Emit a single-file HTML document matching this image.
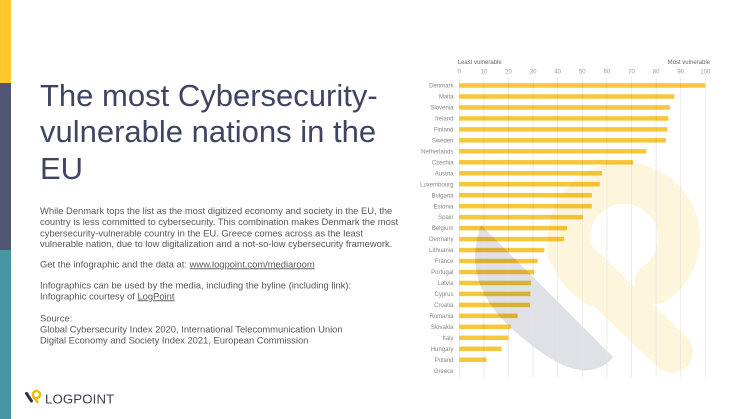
<!DOCTYPE html>
<html><head><meta charset="utf-8">
<style>
html,body{margin:0;padding:0;background:#fff;}
svg{display:block;font-family:"Liberation Sans",sans-serif;}
</style></head>
<body>
<svg width="746" height="419" viewBox="0 0 746 419" xmlns="http://www.w3.org/2000/svg">
<rect width="746" height="419" fill="#fff"/>
<rect x="0" y="0" width="11" height="83" fill="#FFC92E"/>
<rect x="0" y="83" width="11" height="167" fill="#4F5573"/>
<rect x="0" y="250" width="11" height="169" fill="#4895A3"/>

<!-- title -->
<g fill="#3f4463" font-size="31">
<text x="40" y="106">The most Cybersecurity-</text>
<text x="40" y="142">vulnerable nations in the</text>
<text x="40" y="179">EU</text>
</g>

<!-- body -->
<g fill="#55565f" font-size="9.4">
<text x="40" y="214">While Denmark tops the list as the most digitized economy and society in the EU, the</text>
<text x="40" y="225">country is less committed to cybersecurity. This combination makes Denmark the most</text>
<text x="40" y="236.3">cybersecurity-vulnerable country in the EU. Greece comes across as the least</text>
<text x="40" y="247">vulnerable nation, due to low digitalization and a not-so-low cybersecurity framework.</text>
<text x="40" y="267.3">Get the infographic and the data at: <tspan text-decoration="underline">www.logpoint.com/mediaroom</tspan></text>
<text x="40" y="288.3">Infographics can be used by the media, including the byline (including link):</text>
<text x="40" y="299.3">Infographic courtesy of <tspan text-decoration="underline">LogPoint</tspan></text>
<text x="40" y="321.6">Source:</text>
<text x="40" y="332.6">Global Cybersecurity Index 2020, International Telecommunication Union</text>
<text x="40" y="343.6">Digital Economy and Society Index 2021, European Commission</text>
</g>

<!-- logo -->
<line x1="26.5" y1="393.5" x2="31.5" y2="401" stroke="#2f3247" stroke-width="3" stroke-linecap="round"/>
<circle cx="36.5" cy="394.5" r="3.6" fill="none" stroke="#F5B800" stroke-width="2.4"/>
<line x1="33.5" y1="397" x2="37.5" y2="402" stroke="#F5B800" stroke-width="2.4" stroke-linecap="round"/>
<text x="45" y="403.5" font-size="13.2" fill="#3b3f55" letter-spacing="0.15">LOGPOINT</text>

<!-- watermark -->
<g>
<circle cx="624" cy="238" r="55" fill="none" stroke="#FDF6DC" stroke-width="42" stroke-dasharray="288 57.6" stroke-dashoffset="-110.4"/>
<circle cx="655.5" cy="283" r="21" fill="#FDF6DC"/>
<line x1="568" y1="252" x2="672" y2="352" stroke="#FDF6DC" stroke-width="42" stroke-linecap="round"/>
<path d="M481 225 C468 262 474 300 525 340 C552 362 572 372 590 370 Q605 368 613 357 Z" fill="#E0E1E7"/>
</g>

<!-- grid -->
<g stroke="#e4e4e4" stroke-width="0.7">
<line x1="459.3" y1="77" x2="459.3" y2="377"/>
<line x1="483.9" y1="77" x2="483.9" y2="377"/>
<line x1="508.5" y1="77" x2="508.5" y2="377"/>
<line x1="533.1" y1="77" x2="533.1" y2="377"/>
<line x1="557.7" y1="77" x2="557.7" y2="377"/>
<line x1="582.3" y1="77" x2="582.3" y2="377"/>
<line x1="606.9" y1="77" x2="606.9" y2="377"/>
<line x1="631.5" y1="77" x2="631.5" y2="377"/>
<line x1="656.1" y1="77" x2="656.1" y2="377"/>
<line x1="680.7" y1="77" x2="680.7" y2="377"/>
<line x1="705.3" y1="77" x2="705.3" y2="377"/>
</g>

<!-- axis labels -->
<g font-size="6" fill="#999" text-anchor="middle">
<text x="459.3" y="73.7">0</text>
<text x="483.9" y="73.7">10</text>
<text x="508.5" y="73.7">20</text>
<text x="533.1" y="73.7">30</text>
<text x="557.7" y="73.7">40</text>
<text x="582.3" y="73.7">50</text>
<text x="606.9" y="73.7">60</text>
<text x="631.5" y="73.7">70</text>
<text x="656.1" y="73.7">80</text>
<text x="680.7" y="73.7">90</text>
<text x="705.3" y="73.7">100</text>
</g>
<text x="457.7" y="64" font-size="6" fill="#666">Least vulnerable</text>
<text x="710" y="64" font-size="6" fill="#666" text-anchor="end">Most vulnerable</text>

<!-- bars -->
<g fill="#F7C73B" style="mix-blend-mode:multiply">
<rect x="459.3" y="83.25" width="246.0" height="4.5"/>
<rect x="459.3" y="94.22" width="215.0" height="4.5"/>
<rect x="459.3" y="105.19" width="210.6" height="4.5"/>
<rect x="459.3" y="116.16" width="209.1" height="4.5"/>
<rect x="459.3" y="127.13" width="208.1" height="4.5"/>
<rect x="459.3" y="138.1" width="206.6" height="4.5"/>
<rect x="459.3" y="149.07" width="187.0" height="4.5"/>
<rect x="459.3" y="160.04" width="173.7" height="4.5"/>
<rect x="459.3" y="171.01" width="142.7" height="4.5"/>
<rect x="459.3" y="181.98" width="140.5" height="4.5"/>
<rect x="459.3" y="192.95" width="132.6" height="4.5"/>
<rect x="459.3" y="203.92" width="132.6" height="4.5"/>
<rect x="459.3" y="214.89" width="123.5" height="4.5"/>
<rect x="459.3" y="225.86" width="107.7" height="4.5"/>
<rect x="459.3" y="236.83" width="104.8" height="4.5"/>
<rect x="459.3" y="247.8" width="85.1" height="4.5"/>
<rect x="459.3" y="258.77" width="78.5" height="4.5"/>
<rect x="459.3" y="269.74" width="74.8" height="4.5"/>
<rect x="459.3" y="280.71" width="71.6" height="4.5"/>
<rect x="459.3" y="291.68" width="71.1" height="4.5"/>
<rect x="459.3" y="302.65" width="70.6" height="4.5"/>
<rect x="459.3" y="313.62" width="58.3" height="4.5"/>
<rect x="459.3" y="324.59" width="51.4" height="4.5"/>
<rect x="459.3" y="335.56" width="49.0" height="4.5"/>
<rect x="459.3" y="346.53" width="42.3" height="4.5"/>
<rect x="459.3" y="357.5" width="27.3" height="4.5"/>
</g>

<!-- country labels -->
<g font-size="6" fill="#858585" text-anchor="end">
<text x="453.5" y="87.6">Denmark</text>
<text x="453.5" y="98.57">Malta</text>
<text x="453.5" y="109.54">Slovenia</text>
<text x="453.5" y="120.51">Ireland</text>
<text x="453.5" y="131.48">Finland</text>
<text x="453.5" y="142.45">Sweden</text>
<text x="453.5" y="153.42">Netherlands</text>
<text x="453.5" y="164.39">Czechia</text>
<text x="453.5" y="175.36">Austria</text>
<text x="453.5" y="186.33">Luxembourg</text>
<text x="453.5" y="197.3">Bulgaria</text>
<text x="453.5" y="208.27">Estonia</text>
<text x="453.5" y="219.24">Spain</text>
<text x="453.5" y="230.21">Belgium</text>
<text x="453.5" y="241.18">Germany</text>
<text x="453.5" y="252.15">Lithuania</text>
<text x="453.5" y="263.12">France</text>
<text x="453.5" y="274.09">Portugal</text>
<text x="453.5" y="285.06">Latvia</text>
<text x="453.5" y="296.03">Cyprus</text>
<text x="453.5" y="307">Croatia</text>
<text x="453.5" y="317.97">Romania</text>
<text x="453.5" y="328.94">Slovakia</text>
<text x="453.5" y="339.91">Italy</text>
<text x="453.5" y="350.88">Hungary</text>
<text x="453.5" y="361.85">Poland</text>
<text x="453.5" y="372.82">Greece</text>
</g>
</svg>
</body></html>
